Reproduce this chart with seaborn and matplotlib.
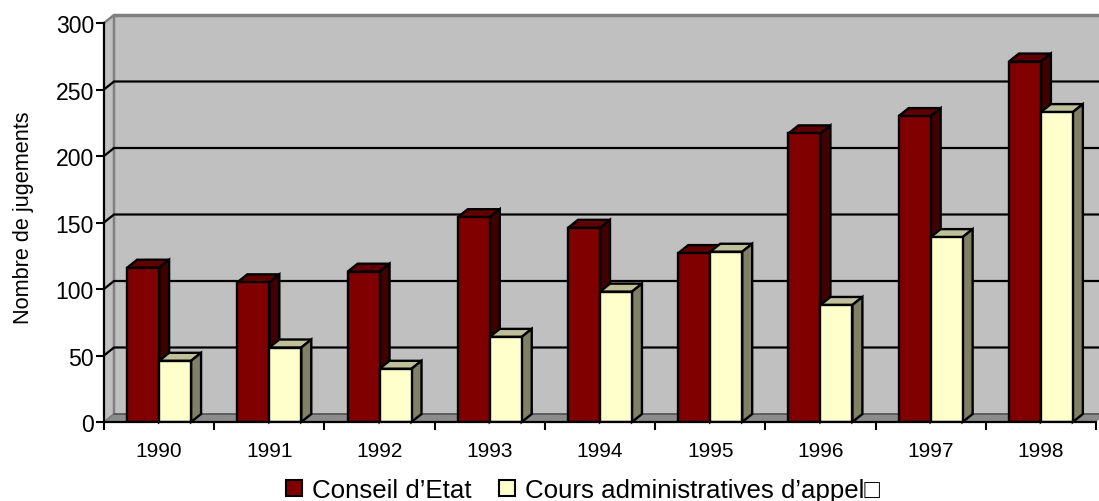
import pandas as pd
import matplotlib
matplotlib.use("Agg")
import matplotlib.pyplot as plt
from matplotlib.patches import Polygon
import seaborn as sns

annees = ["1990", "1991", "1992", "1993", "1994", "1995", "1996", "1997", "1998"]
conseil = [116, 105, 113, 154, 146, 127, 217, 230, 271]
cours = [46, 56, 40, 64, 98, 128, 88, 139, 233]
noms = ["Conseil d\u2019Etat", "Cours administratives d\u2019appel\u25a1"]
couleurs = ["#800000", "#FFFFCC"]
dessus = ["#600000", "#BFBF99"]
cotes = ["#400000", "#808066"]

sns.set_theme(style="ticks")
plt.rcParams["font.family"] = ["Liberation Sans", "DejaVu Sans"]

df = pd.DataFrame({
    "annee": annees * 2,
    "nombre": conseil + cours,
    "juridiction": [noms[0]] * len(annees) + [noms[1]] * len(annees),
})

fig = plt.figure(figsize=(10.99, 5.02), dpi=100)
ax = fig.add_axes([104 / 1099, 1 - 423 / 502, 992 / 1099, 399 / 502])

sns.barplot(data=df, x="annee", y="nombre", hue="juridiction", palette=couleurs,
            width=0.58, gap=0, saturation=1, edgecolor="black", linewidth=1.7,
            zorder=4, ax=ax)
ax.set_xlim(-0.5, 8.5)
ax.set_ylim(0, 300)

# profondeur de la pseudo 3D, en unites de donnees (10 px, 8 px)
dx = 10 / (992 / 9)
dy = 8 / (399 / 300)
x0, x1 = ax.get_xlim()
yticks = [0, 50, 100, 150, 200, 250, 300]


def poly(points, fc, ec="none", lw=0, z=1):
    ax.add_patch(Polygon(points, closed=True, facecolor=fc, edgecolor=ec,
                         linewidth=lw, zorder=z, clip_on=False, joinstyle="miter"))


# murs et sol
poly([(x0 + dx, dy), (x1 + dx, dy), (x1 + dx, 300 + dy), (x0 + dx, 300 + dy)], "#C0C0C0")
poly([(x0, 0), (x0 + dx, dy), (x0 + dx, 300 + dy), (x0, 300)], "#C0C0C0")
poly([(x0, 0), (x1, 0), (x1 + dx, dy), (x0 + dx, dy)], "#8C8C8C")
ax.plot([x0, x0 + dx, x0 + dx], [300, 300 + dy, dy], color="#808080", lw=1.8,
        zorder=1.5, clip_on=False)
ax.plot([x0 + dx, x1 + dx], [300 + dy, 300 + dy], color="#808080", lw=2.5,
        zorder=1.5, clip_on=False)
ax.plot([x0, x0 + dx], [0, dy], color="#808080", lw=1.5, zorder=1.5, clip_on=False)

# grille sur le mur du fond et diagonales sur le mur gauche
for v in yticks[1:-1]:
    ax.plot([x0, x0 + dx, x1 + dx], [v, v + dy, v + dy], color="black", lw=1.6,
            zorder=2, clip_on=False, solid_joinstyle="miter")
ax.plot([x0 + dx, x1 + dx], [dy, dy], color="#505050", lw=1.2, zorder=2, clip_on=False)

# faces de dessus et de cote, calculees depuis les barres de seaborn
for i, conteneur in enumerate(ax.containers):
    for barre in conteneur:
        g, b = barre.get_x(), barre.get_y()
        d, h = g + barre.get_width(), b + barre.get_height()
        barre.set_zorder(4 + 2 * i)
        poly([(g, h), (d, h), (d + dx, h + dy), (g + dx, h + dy)], dessus[i], "black", 1.7, 3 + 2 * i)
        poly([(d, b), (d + dx, b + dy), (d + dx, h + dy), (d, h)], cotes[i], "black", 1.7, 3 + 2 * i)

sns.despine(ax=ax)
for cote in ["left", "bottom"]:
    ax.spines[cote].set_color("black")
    ax.spines[cote].set_linewidth(1.6)
    ax.spines[cote].set_zorder(10)
ax.set_facecolor("none")

ax.set_yticks(yticks)
ax.set_xticks([x0 + k for k in range(len(annees) + 1)], minor=True)
ax.tick_params(axis="x", which="major", length=0, labelsize=15, pad=14, colors="black")
ax.tick_params(axis="x", which="minor", length=5.8, width=1.5, color="black")
ax.tick_params(axis="y", length=5.8, width=1.5, labelsize=16.6, pad=1.5, colors="black")
ax.set_xlabel("")
ax.set_ylabel("Nombre de jugements", fontsize=15.6, color="black")
ax.yaxis.set_label_coords(-70 / 992, 0.514)

ax.legend(frameon=False, ncol=2, loc="center", fontsize=18.6, handlelength=0.62,
          handleheight=0.62, handletextpad=0.38, columnspacing=1.05, borderpad=0,
          labelcolor="black", bbox_to_anchor=(583 / 1099, 1 - 491 / 502),
          bbox_transform=fig.transFigure)
for h in ax.get_legend().get_patches():
    h.set_edgecolor("black")
    h.set_linewidth(1.5)

fig.savefig("out.png", dpi=100)
